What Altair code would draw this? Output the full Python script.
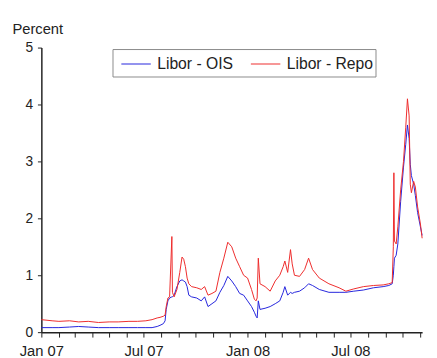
import altair as alt
import pandas as pd

dates = [
    "2007-01-01", "2007-01-20", "2007-02-01", "2007-02-20", "2007-03-08", "2007-03-25",
    "2007-04-12", "2007-05-01", "2007-05-17", "2007-06-05", "2007-06-20", "2007-07-05",
    "2007-07-16", "2007-07-25", "2007-07-30", "2007-08-05", "2007-08-08", "2007-08-10",
    "2007-08-13", "2007-08-16", "2007-08-20", "2007-08-21", "2007-08-24", "2007-08-29",
    "2007-09-03", "2007-09-07", "2007-09-10", "2007-09-13", "2007-09-16", "2007-09-19",
    "2007-09-24", "2007-10-03", "2007-10-11", "2007-10-17", "2007-10-23", "2007-10-30",
    "2007-11-06", "2007-11-13", "2007-11-20", "2007-11-27", "2007-12-04", "2007-12-11",
    "2007-12-18", "2007-12-25", "2008-01-01", "2008-01-08", "2008-01-13", "2008-01-16",
    "2008-01-18", "2008-01-20", "2008-01-23", "2008-02-01", "2008-02-10", "2008-02-19",
    "2008-02-27", "2008-03-04", "2008-03-07", "2008-03-12", "2008-03-17", "2008-03-20",
    "2008-03-24", "2008-04-02", "2008-04-11", "2008-04-18", "2008-04-25", "2008-05-07",
    "2008-05-24", "2008-06-11", "2008-06-23", "2008-07-07", "2008-07-24", "2008-08-11",
    "2008-08-28", "2008-09-07", "2008-09-13", "2008-09-15", "2008-09-16", "2008-09-17",
    "2008-09-20", "2008-09-23", "2008-09-28", "2008-10-03", "2008-10-07", "2008-10-10",
    "2008-10-13", "2008-10-15", "2008-10-17", "2008-10-21", "2008-10-24", "2008-10-28",
    "2008-11-02", "2008-11-05",
]

libor_ois = [
    0.08, 0.08, 0.08, 0.09, 0.10, 0.09,
    0.08, 0.08, 0.08, 0.08, 0.08, 0.08,
    0.08, 0.10, 0.12, 0.15, 0.20, 0.40,
    0.55, 0.60, 0.62, 0.62, 0.65, 0.80,
    0.90, 0.92, 0.90, 0.88, 0.80, 0.65,
    0.62, 0.60, 0.55, 0.62, 0.45, 0.50,
    0.55, 0.70, 0.82, 0.98, 0.90, 0.80,
    0.68, 0.65, 0.55, 0.45, 0.35, 0.28,
    0.25, 0.55, 0.40, 0.42, 0.45, 0.50,
    0.55, 0.70, 0.80, 0.65, 0.70, 0.68,
    0.70, 0.72, 0.78, 0.85, 0.82, 0.75,
    0.70, 0.70, 0.70, 0.72, 0.74, 0.78,
    0.80, 0.82, 0.85, 1.00, 1.15, 1.30,
    1.35, 1.55, 2.30, 2.90, 3.30, 3.64,
    3.40, 2.95, 2.75, 2.60, 2.40, 2.10,
    1.85, 1.70,
]

libor_repo = [
    0.22, 0.20, 0.19, 0.20, 0.18, 0.19,
    0.17, 0.18, 0.18, 0.19, 0.19, 0.20,
    0.22, 0.25, 0.26, 0.28, 0.30, 0.45,
    0.60, 0.62, 1.68, 0.70, 0.62, 0.75,
    1.05, 1.32, 1.28, 1.15, 0.95, 0.85,
    0.80, 0.78, 0.75, 0.80, 0.65, 0.68,
    0.72, 1.05, 1.30, 1.58, 1.50, 1.30,
    1.15, 1.00, 0.95, 0.75, 0.58, 0.55,
    0.60, 1.30, 0.85, 0.80, 0.72, 0.90,
    1.00, 1.15, 1.25, 1.05, 1.45, 1.20,
    1.00, 0.98, 1.10, 1.30, 1.10, 0.95,
    0.85, 0.78, 0.72, 0.76, 0.80, 0.82,
    0.83, 0.85, 0.87, 1.50, 2.80, 1.60,
    1.55, 1.85, 2.50, 3.00, 3.60, 4.10,
    3.80, 2.60, 2.45, 2.65, 2.55, 2.20,
    1.90, 1.65,
]

series_names = ["Libor - OIS", "Libor - Repo"]
series_colors = ["#2424dc", "#ee2b2b"]
y_ticks = [0, 1, 2, 3, 4, 5]

rows = []
for d, a, b in zip(dates, libor_ois, libor_repo):
    rows.append({"date": d + "T00:00", "value": a, "series": series_names[0]})
    rows.append({"date": d + "T00:00", "value": b, "series": series_names[1]})
df = pd.DataFrame(rows)

month_ticks = []
for yr in (2007, 2008):
    for m in range(1, 13):
        if yr == 2008 and m > 11:
            break
        month_ticks.append(alt.DateTime(year=yr, month=m, date=1))

FONT = "Liberation Sans"

legend_box = alt.Chart(pd.DataFrame({"k": [0]})).mark_rect(
    fill="white", stroke="#8a8a8a", strokeWidth=1
).encode(
    x=alt.value(73), x2=alt.value(341), y=alt.value(2), y2=alt.value(30)
)

lines = alt.Chart(df).mark_line(strokeWidth=1, interpolate="linear").encode(
    x=alt.X(
        "date:T",
        scale=alt.Scale(domain=[alt.DateTime(year=2007, month=1, date=1),
                                alt.DateTime(year=2008, month=11, date=5)], nice=False),
        axis=alt.Axis(
            title=None,
            values=month_ticks,
            labelExpr="month(datum.value) % 6 == 0 ? timeFormat(datum.value, '%b %y') : ''",
            labelOverlap=False,
            labelFontSize=15,
            labelFont=FONT,
            labelColor="#222",
            labelPadding=7,
            tickSize=5,
            tickColor="#222",
            domainColor="#222",
            domainWidth=1.5,
            grid=False,
            labelFlush=False,
        ),
    ),
    y=alt.Y(
        "value:Q",
        scale=alt.Scale(domain=[0, 5], nice=False),
        axis=alt.Axis(
            title="Percent",
            titleAngle=0,
            titleAlign="left",
            titleBaseline="alphabetic",
            titleX=-30,
            titleY=-14,
            titleFontSize=15,
            titleFontWeight="normal",
            titleFont=FONT,
            titleColor="#222",
            values=y_ticks,
            format="d",
            labelFontSize=14,
            labelFont=FONT,
            labelColor="#222",
            labelPadding=5,
            tickSize=4,
            tickColor="#222",
            domainColor="#222",
            domainWidth=1.5,
            grid=False,
        ),
    ),
    color=alt.Color(
        "series:N",
        scale=alt.Scale(domain=series_names, range=series_colors),
        legend=alt.Legend(
            title=None,
            orient="none",
            legendX=81,
            legendY=1,
            direction="horizontal",
            padding=0,
            symbolType="stroke",
            symbolSize=900,
            symbolStrokeWidth=1,
            labelFontSize=16,
            labelFont=FONT,
            labelColor="#222",
            labelOffset=6,
            columnPadding=15,
        ),
    ),
)

chart = alt.layer(legend_box, lines).properties(
    width=388,
    height=290,
    autosize=alt.AutoSizeParams(type="none"),
    padding={"left": 34, "top": 37, "right": 7, "bottom": 23},
).configure_view(stroke=None)

chart.save("out.html", embed_options={"renderer": "svg", "actions": False})
